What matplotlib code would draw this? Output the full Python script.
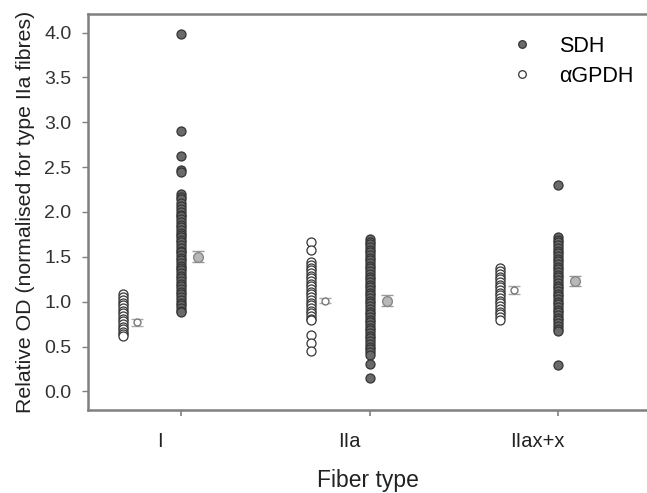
import matplotlib
matplotlib.use("Agg")
import matplotlib.pyplot as plt

# ---- data ----
fiber_types = ["I", "IIa", "IIax+x"]

sdh_I = [3.98, 2.90, 2.62, 2.47, 2.45, 2.20, 2.17, 2.14, 2.10, 2.07, 2.03, 2.00,
         1.97, 1.95, 1.92, 1.89, 1.86, 1.83, 1.80, 1.77, 1.74, 1.72, 1.69, 1.66,
         1.63, 1.60, 1.57, 1.55, 1.52, 1.49, 1.46, 1.43, 1.40, 1.37, 1.35, 1.32,
         1.29, 1.26, 1.23, 1.20, 1.17, 1.14, 1.11, 1.08, 1.05, 1.02, 0.99, 0.96,
         0.93, 0.90, 0.88]
sdh_IIa = [1.70, 1.67, 1.64, 1.61, 1.58, 1.55, 1.52, 1.49, 1.46, 1.43, 1.40, 1.37,
           1.34, 1.31, 1.28, 1.25, 1.22, 1.19, 1.16, 1.13, 1.10, 1.07, 1.04, 1.01,
           0.98, 0.95, 0.92, 0.89, 0.86, 0.83, 0.80, 0.77, 0.74, 0.71, 0.68, 0.65,
           0.62, 0.59, 0.56, 0.53, 0.50, 0.47, 0.44, 0.41, 0.30, 0.15]
sdh_IIax = [2.30, 1.72, 1.69, 1.66, 1.63, 1.60, 1.57, 1.54, 1.51, 1.48, 1.45, 1.42,
            1.39, 1.36, 1.33, 1.30, 1.27, 1.24, 1.21, 1.18, 1.15, 1.12, 1.09, 1.06,
            1.03, 1.00, 0.97, 0.94, 0.91, 0.88, 0.85, 0.82, 0.79, 0.76, 0.73, 0.70,
            0.67, 0.29]
gpdh_I = [1.08, 1.05, 1.02, 0.99, 0.96, 0.93, 0.90, 0.87, 0.84, 0.81, 0.78, 0.75,
          0.72, 0.69, 0.66, 0.64, 0.62]
gpdh_IIa = [1.66, 1.58, 1.44, 1.41, 1.38, 1.35, 1.32, 1.29, 1.26, 1.23, 1.20, 1.17,
            1.14, 1.11, 1.08, 1.05, 1.02, 0.99, 0.96, 0.93, 0.90, 0.87, 0.84, 0.81,
            0.79, 0.63, 0.54, 0.45]
gpdh_IIax = [1.37, 1.34, 1.31, 1.28, 1.25, 1.22, 1.19, 1.16, 1.13, 1.10, 1.07, 1.04,
             1.01, 0.98, 0.95, 0.92, 0.89, 0.86, 0.83, 0.80]

sdh_mean = [1.50, 1.01, 1.23]
sdh_err = [0.06, 0.06, 0.06]
gpdh_mean = [0.77, 1.01, 1.13]
gpdh_err = [0.04, 0.03, 0.04]

sdh_all = [sdh_I, sdh_IIa, sdh_IIax]
gpdh_all = [gpdh_I, gpdh_IIa, gpdh_IIax]

# ---- figure ----
plt.rcParams['font.family'] = ['Liberation Sans', 'DejaVu Sans']
fig = plt.figure(figsize=(6.47, 4.93), dpi=100)
ax = fig.add_axes([0.136, 0.168, 0.864, 0.804])

spine_c = "#808080"
dark_fill = "#6a6a6a"
edge_c = "#353535"

for i in range(3):
    x0 = i + 1
    ax.plot([x0 - 0.31] * len(gpdh_all[i]), gpdh_all[i], 'o', ms=6.5,
            mfc='white', mec=edge_c, mew=0.9, ls='none', zorder=3)
    ax.plot([x0] * len(sdh_all[i]), sdh_all[i], 'o', ms=6.5,
            mfc=dark_fill, mec=edge_c, mew=0.9, ls='none', zorder=3)
    ax.errorbar([x0 - 0.235], [gpdh_mean[i]], yerr=[gpdh_err[i]], fmt='o', ms=5,
                mfc='white', mec='#777777', mew=1.0, ecolor='#aaaaaa',
                elinewidth=1.2, capsize=4, capthick=1.5, zorder=4)
    ax.errorbar([x0 + 0.09], [sdh_mean[i]], yerr=[sdh_err[i]], fmt='o', ms=7,
                mfc='#b8b8b8', mec='#888888', mew=1.0, ecolor='#999999',
                elinewidth=1.2, capsize=4.5, capthick=1.5, zorder=4)

# legend handles
ax.plot([], [], 'o', ms=5.5, mfc=dark_fill, mec=edge_c, mew=0.9, ls='none', label='SDH')
ax.plot([], [], 'o', ms=5.5, mfc='white', mec=edge_c, mew=0.9, ls='none', label='αGPDH')
leg = ax.legend(loc='upper right', bbox_to_anchor=(1.01, 0.993), frameon=False,
                fontsize=15.5, handletextpad=1.2, labelspacing=0.4, handlelength=1.0)

ax.set_xlim(0.507, 3.47)
ax.set_ylim(-0.21, 4.21)

ax.set_xticks([1, 2, 3])
ax.set_xticklabels([])
ax.set_xticks([0.89, 1.89, 2.89], minor=True)
ax.set_xticklabels(fiber_types, minor=True, fontsize=14.5, color='#222222')
ax.tick_params(axis='x', which='minor', length=0, pad=16)
ax.tick_params(axis='x', which='major', length=4, width=1.2, color=spine_c)

yt = [0.0, 0.5, 1.0, 1.5, 2.0, 2.5, 3.0, 3.5, 4.0]
ax.set_yticks(yt)
ax.set_yticklabels([f"{v:.1f}" for v in yt], fontsize=14, color='#333333')
ax.tick_params(axis='y', length=4, width=1.0, color=spine_c, pad=8)

for s in ['left', 'bottom', 'top']:
    ax.spines[s].set_color(spine_c)
    ax.spines[s].set_linewidth(1.8)
ax.spines['right'].set_visible(False)

ax.set_ylabel("Relative OD (normalised for type IIa fibres)", fontsize=15.3, color='#222222')
ax.yaxis.set_label_coords(-0.094, 0.5)
ax.set_xlabel("Fiber type", fontsize=16.5, color='#222222', labelpad=13)

fig.savefig("out.png", dpi=100)
